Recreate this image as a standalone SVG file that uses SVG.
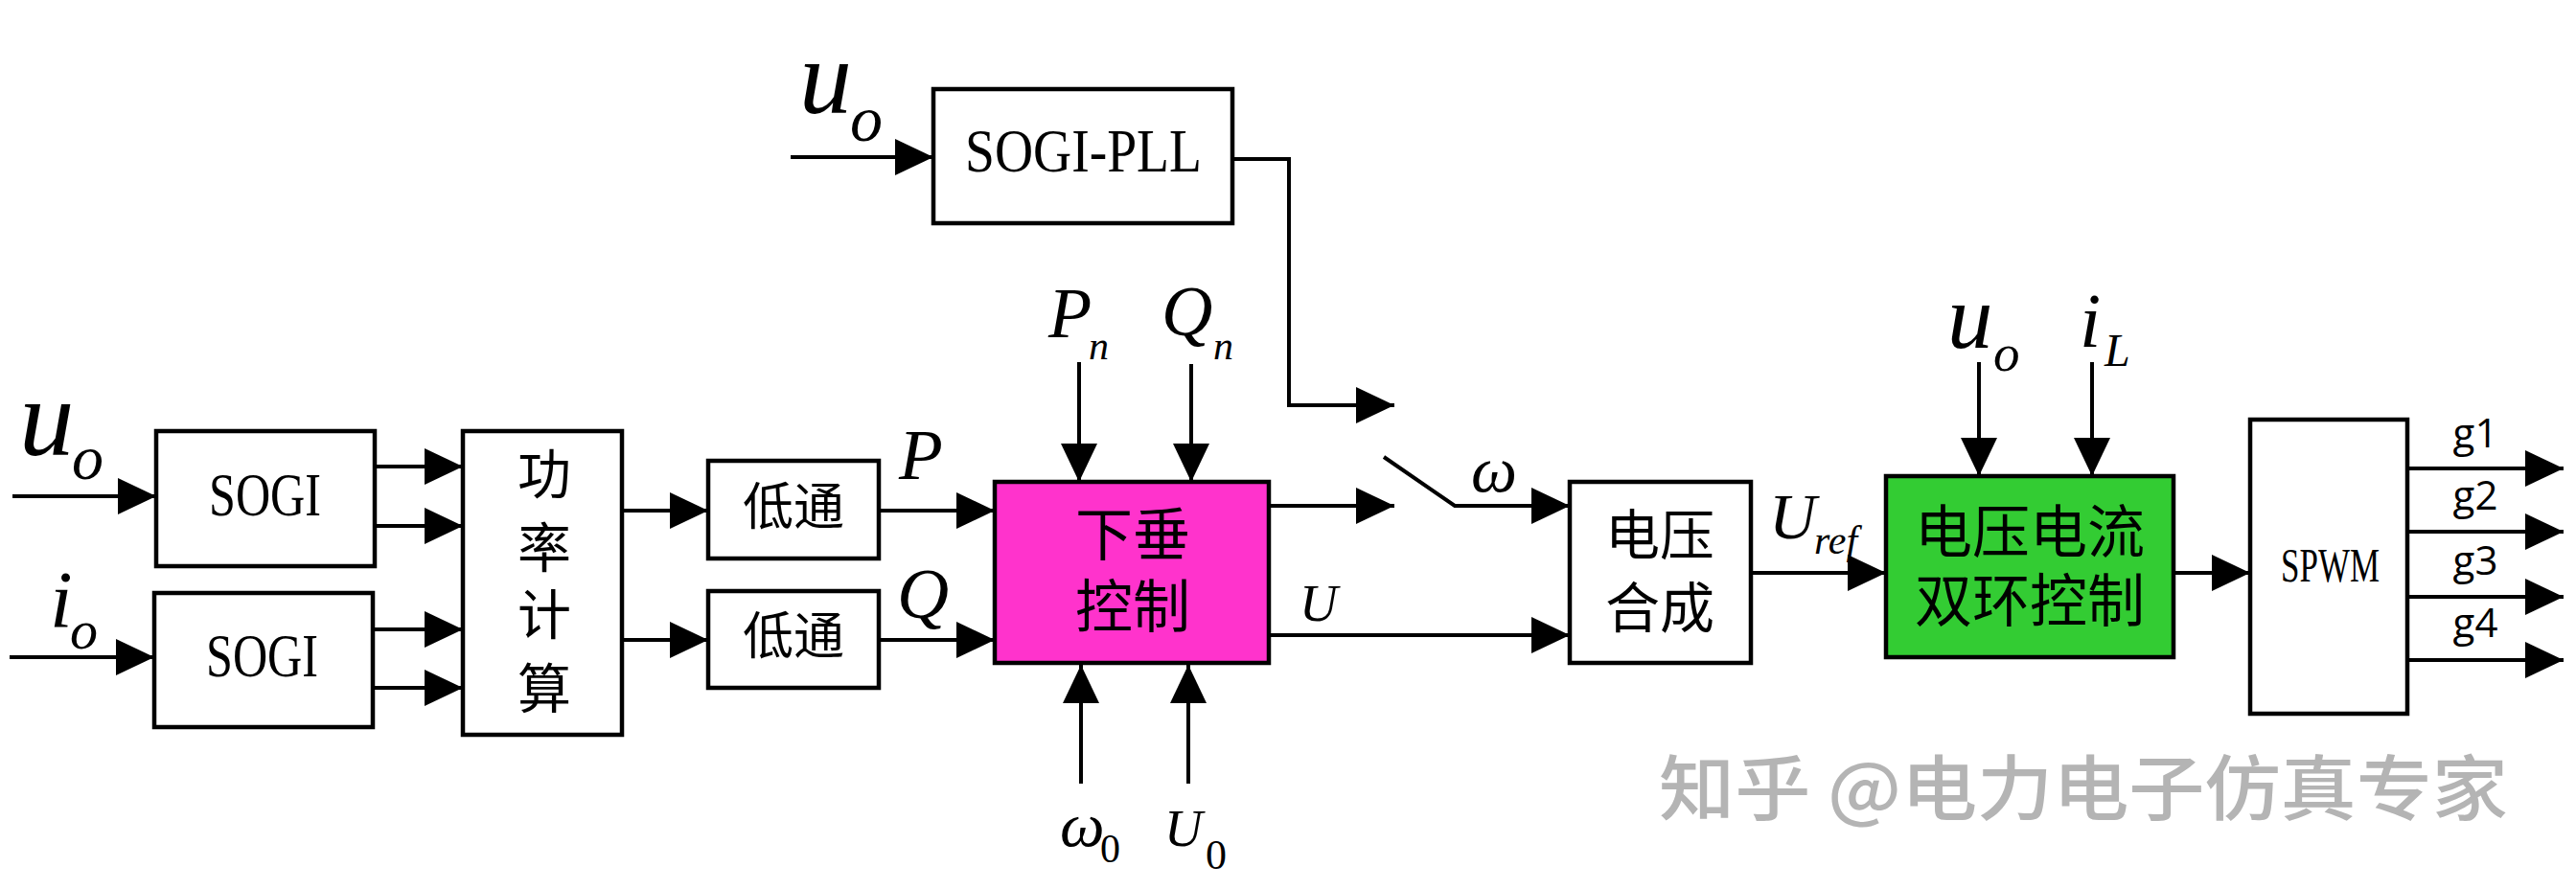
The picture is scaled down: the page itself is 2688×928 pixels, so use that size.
<svg xmlns="http://www.w3.org/2000/svg" width="2688" height="928" viewBox="0 0 2688 928">
<style>
.box{fill:#fff;stroke:#000;stroke-width:4.5}
.ln{fill:none;stroke:#000;stroke-width:4}
.arr{fill:none;stroke:#000;stroke-width:4;marker-end:url(#ah)}
.cjk{font-family:"Noto Sans CJK SC",sans-serif;fill:#000;text-anchor:middle}
.lat{font-family:"Liberation Serif",serif;fill:#000}
.it{font-family:"Liberation Serif",serif;font-style:italic;fill:#000}
.g{font-family:"Open Sans","Noto Sans",sans-serif;fill:#000;font-size:42px;text-anchor:middle}
</style>
<defs>
<marker id="ah" markerUnits="userSpaceOnUse" markerWidth="40" markerHeight="38" refX="40" refY="19" orient="auto" viewBox="0 0 40 38">
<path d="M0,0 L40,19 L0,38 z" fill="#000"/>
</marker>
</defs>
<rect width="2688" height="928" fill="#fff"/>

<g id="connectors">
<line class="arr" x1="825" y1="164" x2="974" y2="164"/>
<line class="arr" x1="13" y1="518" x2="163" y2="518"/>
<line class="arr" x1="10" y1="686" x2="161" y2="686"/>
<line class="arr" x1="391" y1="487" x2="483" y2="487"/>
<line class="arr" x1="391" y1="549" x2="483" y2="549"/>
<line class="arr" x1="389" y1="657" x2="483" y2="657"/>
<line class="arr" x1="389" y1="718" x2="483" y2="718"/>
<line class="arr" x1="649" y1="533" x2="739" y2="533"/>
<line class="arr" x1="649" y1="668" x2="739" y2="668"/>
<line class="arr" x1="917" y1="533" x2="1038" y2="533"/>
<line class="arr" x1="917" y1="668" x2="1038" y2="668"/>
<line class="arr" x1="1126" y1="378" x2="1126" y2="503"/>
<line class="arr" x1="1243" y1="380" x2="1243" y2="503"/>
<line class="arr" x1="1128" y1="818" x2="1128" y2="694"/>
<line class="arr" x1="1240" y1="818" x2="1240" y2="694"/>
<line class="arr" x1="1324" y1="528" x2="1455" y2="528"/>
<polyline class="arr" points="1286,166 1345,166 1345,423 1455,423"/>
<polyline class="arr" points="1444,477 1518,528 1638,528"/>
<line class="arr" x1="1324" y1="663" x2="1638" y2="663"/>
<line class="arr" x1="1827" y1="598" x2="1968" y2="598"/>
<line class="arr" x1="2065" y1="378" x2="2065" y2="497"/>
<line class="arr" x1="2183" y1="378" x2="2183" y2="497"/>
<line class="arr" x1="2268" y1="598" x2="2348" y2="598"/>
<line class="arr" x1="2512" y1="489" x2="2675" y2="489"/>
<line class="arr" x1="2512" y1="555" x2="2675" y2="555"/>
<line class="arr" x1="2512" y1="623" x2="2675" y2="623"/>
<line class="arr" x1="2512" y1="689" x2="2675" y2="689"/>
</g>

<g id="sogi-pll">
<rect class="box" x="974" y="93" width="312" height="140"/>
<text class="lat" x="1007" y="179" font-size="63" textLength="247" lengthAdjust="spacingAndGlyphs">SOGI-PLL</text>
</g>

<g id="sogi-u">
<rect class="box" x="163" y="450" width="228" height="141"/>
<text class="lat" x="218" y="538" font-size="63" textLength="117" lengthAdjust="spacingAndGlyphs">SOGI</text>
</g>

<g id="sogi-i">
<rect class="box" x="161" y="619" width="228" height="140"/>
<text class="lat" x="215" y="706" font-size="63" textLength="117" lengthAdjust="spacingAndGlyphs">SOGI</text>
</g>

<g id="power-calc">
<rect class="box" x="483" y="450" width="166" height="317"/>
<text class="cjk" x="568" y="515" font-size="56">功</text>
<text class="cjk" x="568" y="592" font-size="56">率</text>
<text class="cjk" x="568" y="662" font-size="56">计</text>
<text class="cjk" x="568" y="739" font-size="56">算</text>
</g>

<g id="lowpass-p">
<rect class="box" x="739" y="481" width="178" height="102"/>
<text class="cjk" x="828" y="548" font-size="53">低通</text>
</g>

<g id="lowpass-q">
<rect class="box" x="739" y="617" width="178" height="101"/>
<text class="cjk" x="828" y="683" font-size="53">低通</text>
</g>

<g id="droop">
<rect x="1038" y="503" width="286" height="189" fill="#ff33cc" stroke="#000" stroke-width="4.5"/>
<text class="cjk" x="1182" y="580" font-size="60">下垂</text>
<text class="cjk" x="1182" y="655" font-size="60">控制</text>
</g>

<g id="voltage-synth">
<rect class="box" x="1638" y="503" width="189" height="189"/>
<text class="cjk" x="1732" y="579" font-size="57">电压</text>
<text class="cjk" x="1732" y="655" font-size="57">合成</text>
</g>

<g id="dual-loop">
<rect x="1968" y="497" width="300" height="189" fill="#33cc33" stroke="#000" stroke-width="4.5"/>
<text class="cjk" x="2118" y="577" font-size="60">电压电流</text>
<text class="cjk" x="2118" y="649" font-size="60">双环控制</text>
</g>

<g id="spwm">
<rect class="box" x="2348" y="438" width="164" height="307"/>
<text class="lat" x="2380" y="607" font-size="51" textLength="103" lengthAdjust="spacingAndGlyphs">SPWM</text>
</g>

<g id="labels">
<text class="it" x="834" y="118" font-size="110">u</text>
<text class="it" x="887" y="147" font-size="68">o</text>
<text class="it" x="20" y="475" font-size="115">u</text>
<text class="it" x="75" y="500" font-size="66">o</text>
<text class="it" x="52" y="655" font-size="85">i</text>
<text class="it" x="73" y="677" font-size="58">o</text>
<text class="it" x="938" y="500" font-size="75">P</text>
<text class="it" x="936" y="645" font-size="75">Q</text>
<text class="it" x="1094" y="352" font-size="74">P</text>
<text class="it" x="1136" y="375" font-size="42">n</text>
<text class="it" x="1212" y="350" font-size="74">Q</text>
<text class="it" x="1266" y="375" font-size="42">n</text>
<text class="it" x="1356" y="648" font-size="55">U</text>
<text class="it" x="1535" y="513" font-size="68">ω</text>
<text class="it" x="1846" y="562" font-size="68">U</text>
<text class="it" x="1893" y="578" font-size="42">ref</text>
<text class="it" x="2032" y="363" font-size="95">u</text>
<text class="it" x="2080" y="387" font-size="55">o</text>
<text class="it" x="2170" y="362" font-size="80">i</text>
<text class="it" x="2196" y="382" font-size="48">L</text>
<text class="it" x="1106" y="883" font-size="66">ω</text>
<text class="lat" x="1148" y="900" font-size="42">0</text>
<text class="it" x="1215" y="883" font-size="55">U</text>
<text class="lat" x="1258" y="907" font-size="44">0</text>
<text class="g" x="2583" y="467">g1</text>
<text class="g" x="2583" y="532">g2</text>
<text class="g" x="2583" y="600">g3</text>
<text class="g" x="2583" y="665">g4</text>
</g>

<text x="1731" y="850" font-family="Noto Sans CJK SC,sans-serif" font-size="74" font-weight="500" fill="#b4b4b4" textLength="886" lengthAdjust="spacingAndGlyphs">知乎 @电力电子仿真专家</text>
</svg>
